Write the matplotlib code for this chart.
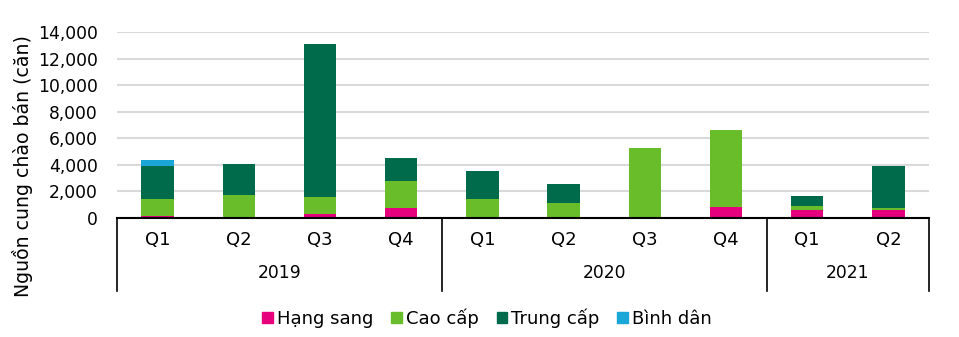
import matplotlib.pyplot as plt
import matplotlib.transforms as mtransforms
from matplotlib.patches import Patch

# Du lieu
quy = ["Q1", "Q2", "Q3", "Q4", "Q1", "Q2", "Q3", "Q4", "Q1", "Q2"]
nam = ["2019", "2020", "2021"]
so_quy_moi_nam = [4, 4, 2]
hang_sang = [170, 80, 320, 770, 0, 60, 0, 830, 600, 600]
cao_cap = [1260, 1650, 1260, 2010, 1430, 1070, 5260, 5790, 300, 150]
trung_cap = [2480, 2330, 11500, 1730, 2100, 1430, 0, 0, 750, 3160]
binh_dan = [450, 0, 0, 0, 0, 0, 0, 0, 0, 0]

series = [
    ("Hạng sang", hang_sang, "#E6007E"),
    ("Cao cấp", cao_cap, "#6ABD2A"),
    ("Trung cấp", trung_cap, "#006B4B"),
    ("Bình dân", binh_dan, "#1AA7D8"),
]

fig = plt.figure(figsize=(9.59, 3.37), dpi=100)
ax = fig.add_axes([117 / 959, 119 / 337, 812 / 959, 186 / 337])

x = list(range(len(quy)))
bottom = [0] * len(quy)
for ten, vals, mau in series:
    ax.bar(x, vals, width=0.4, bottom=bottom, color=mau, zorder=3)
    bottom = [b + v for b, v in zip(bottom, vals)]

ax.set_xlim(-0.5, len(quy) - 0.5)
ax.set_ylim(0, 14000)
ax.set_yticks(range(0, 14001, 2000))
ax.set_yticklabels([f"{v:,}" for v in range(0, 14001, 2000)], fontsize=12.3)
ax.tick_params(axis="y", length=0, pad=14)
ax.set_xticks([])
ax.yaxis.grid(True, color="#D9D9D9", linewidth=1.5, zorder=0)
for s in ["top", "right", "left"]:
    ax.spines[s].set_visible(False)
ax.spines["bottom"].set_color("black")
ax.spines["bottom"].set_linewidth(1.5)
ax.spines["bottom"].set_zorder(4)

ax.set_ylabel("Nguồn cung chào bán (căn)", fontsize=13.6)
ax.yaxis.set_label_coords(-0.104, 0.28)

# Truc phan cap quy / nam
trans = mtransforms.blended_transform_factory(ax.transData, ax.transAxes)
for i, q in enumerate(quy):
    ax.text(i, -0.118, q, transform=trans, ha="center", va="center", fontsize=13)

ranh_gioi = [-0.5]
for n in so_quy_moi_nam:
    ranh_gioi.append(ranh_gioi[-1] + n)
for xv in ranh_gioi:
    ax.plot([xv, xv], [0, -0.39], transform=trans, color="black",
            linewidth=1.2, clip_on=False)
for k, y in enumerate(nam):
    giua = (ranh_gioi[k] + ranh_gioi[k + 1]) / 2
    ax.text(giua, -0.296, y, transform=trans, ha="center", va="center", fontsize=12.3)

handles = [Patch(color=m, label=t) for t, _, m in series]
fig.legend(handles=handles, loc="center", bbox_to_anchor=(487 / 959, 1 - 318 / 337),
           ncol=4, frameon=False, fontsize=13, handlelength=0.6, handleheight=0.6,
           handletextpad=0.2, columnspacing=1.0)

fig.savefig("out.png", dpi=100)
